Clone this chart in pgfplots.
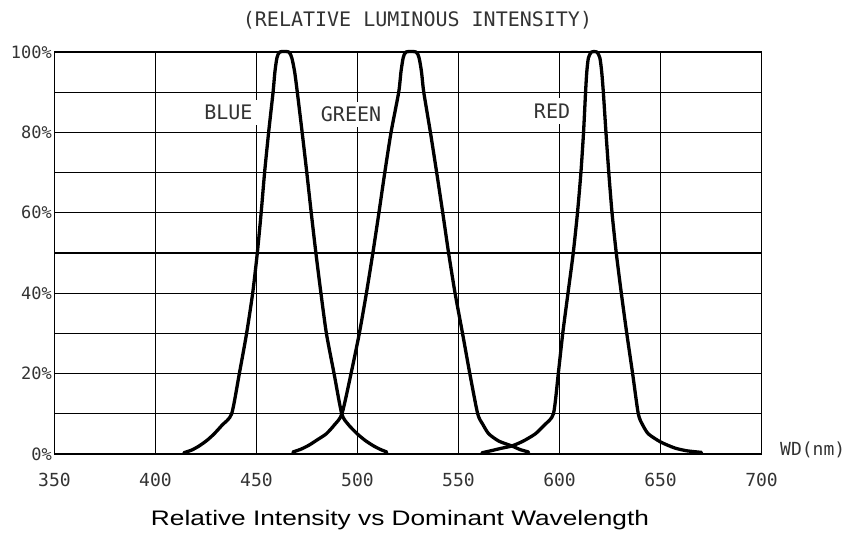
\documentclass[border=0pt]{standalone}
\usepackage{graphicx}
\usepackage{pgfplots}
\pgfplotsset{compat=1.18}
\usepackage{fontspec}
\setmainfont{Liberation Sans}
\newfontfamily\cad{DejaVu Sans Mono}

\begin{document}
\begin{tikzpicture}
\useasboundingbox (0,0) rectangle (850pt,533pt);
\begin{axis}[
  at={(54.5pt,79pt)}, anchor=south west,
  scale only axis, width=707pt, height=402pt,
  xmin=350, xmax=700, ymin=0, ymax=100,
  clip=false,
  axis line style={black, line width=1.9pt},
  /pgf/number format/assume math mode=true,
  xtick={350,450,500,550,600,650,700},
  xticklabels={350,450,500,550,600,650,700},
  extra x ticks={400},
  extra x tick labels={400},
  extra x tick style={grid style={black!45, line width=1.3pt}},
  ytick={0,20,40,60,80,100},
  yticklabels={0\%,20\%,40\%,60\%,80\%,100\%},
  minor ytick={10,30,50,70,90},
  major tick length=0pt, minor tick length=0pt,
  xmajorgrids, ymajorgrids, yminorgrids,
  major grid style={black, line width=1.3pt},
  minor grid style={black, line width=1.3pt},
  xticklabel style={font=\cad\fontsize{18}{18}\selectfont, text=black!80, inner sep=0pt, anchor=north, yshift=-19pt},
  yticklabel style={font=\cad\fontsize{17}{17}\selectfont, text=black!80, inner sep=0pt, anchor=east, xshift=-2.5pt},
]
\addplot[black, line width=3.3pt, line join=round, line cap=round, smooth, tension=0.4] coordinates {
(414,0.3) (418,1.0) (421.6,2) (425.5,3.4) (429,5) (433,7.2) (437.7,10)
(441.5,20) (445.1,30) (448.1,40) (450.4,50) (452.3,60) (454,70) (456,80)
(458.2,90) (459.1,95) (460.1,98.5) (461.5,100) (466,100) (467.5,98.5) (468.9,95)
(470.2,90) (472.6,80) (474.9,70) (477.1,60) (479.4,50) (481.9,40) (484.6,30)
(488.4,20) (492.2,10) (495.5,7.3) (499.9,5) (504,3.3) (508,2) (511.5,1.1) (514.5,0.5)
};
\addplot[black, line width=3.3pt, line join=round, line cap=round, smooth, tension=0.4] coordinates {
(468,0.5) (472,1.2) (476,2.2) (480,3.5) (484.5,5) (488.5,7.2) (492.3,10)
(496.8,20) (500.9,30) (504.4,40) (507.6,50) (510.6,60) (513.5,70) (516.6,80)
(520.4,90) (521.5,95) (522.6,98.5) (524,100) (529,100) (530.5,98.5) (531.7,95)
(532.8,90) (536.1,80) (539.2,70) (542.2,60) (545.1,50) (548.3,40) (552,30)
(555.6,20) (559.5,10) (562,7.4) (565,5) (570,3.2) (576.4,2) (580.5,1.1) (584.7,0.5)
};
\addplot[black, line width=3.3pt, line join=round, line cap=round, smooth, tension=0.4] coordinates {
(561.6,0.3) (566,0.8) (571,1.4) (576.4,2) (582,3.2) (588,5) (592.5,7.2) (597,10)
(599.4,20) (601.6,30) (604.2,40) (606.8,50) (608.9,60) (610.6,70) (611.9,80)
(612.9,90) (613.5,95) (614.3,98.5) (615.8,100) (618.5,100) (620,98.5) (620.9,95)
(621.7,90) (623,80) (624.4,70) (626,60) (628.1,50) (630.6,40) (633.3,30)
(636.2,20) (639,10) (641.2,7.2) (644,5) (650,3) (657,1.5) (663,0.8) (670.3,0.4)
};
\node[fill=white, inner xsep=5pt, inner ysep=5pt, text=black!80, font=\cad\fontsize{20}{20}\selectfont] at (axis cs:436.1,84.95) {BLUE};
\node[fill=white, inner xsep=4pt, inner ysep=5pt, text=black!80, font=\cad\fontsize{20}{20}\selectfont] at (axis cs:496.8,84.45) {GREEN};
\node[fill=white, inner xsep=3pt, inner ysep=6pt, text=black!80, font=\cad\fontsize{20}{20}\selectfont] at (axis cs:596.3,85.3) {RED};
\end{axis}
\node[anchor=base, font=\cad\fontsize{20}{20}\selectfont, text=black!80] at (417.5pt,506.3pt) {(RELATIVE LUMINOUS INTENSITY)};
\node[anchor=base west, inner sep=0pt, font=\cad\fontsize{18}{18}\selectfont, text=black!80] at (780pt,78pt) {WD(nm)};
\node[anchor=base, inner sep=0pt, font=\fontsize{21}{21}\selectfont] at (400pt,8pt) {\scalebox{1.25}[1]{Relative Intensity vs Dominant Wavelength}};
\end{tikzpicture}
\end{document}
